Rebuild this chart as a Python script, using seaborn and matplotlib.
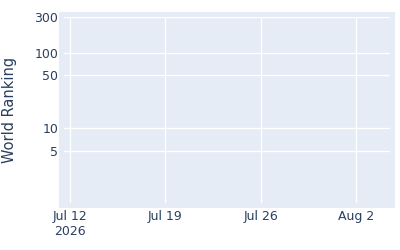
import matplotlib
matplotlib.use("Agg")
import matplotlib.pyplot as plt
import matplotlib.dates as mdates
from matplotlib.patches import Rectangle
import seaborn as sns
import pandas as pd
import numpy as np

# Data (the reference chart has no visible data points)
dates = []
rankings = []
y_ticks = [5, 10, 50, 100, 300]
y_tick_labels = ["5", "10", "50", "100", "300"]
x_tick_dates = ["2026-07-12", "2026-07-19", "2026-07-26", "2026-08-02"]
x_tick_labels = ["Jul 12\n2026", "Jul 19", "Jul 26", "Aug 2"]

sns.set_theme(style="white")
plt.rcParams['font.family'] = ['DejaVu Sans']

W, H = 400, 250
fig = plt.figure(figsize=(W / 100, H / 100), dpi=100)
fig.patch.set_facecolor("white")

bg = "#E5ECF6"
txt = "#2a3f5f"

# outer background slightly larger than the gridline area
fig.patches.append(Rectangle((59 / W, 1 - 208 / H), (395 - 59) / W, (208 - 12) / H,
                             transform=fig.transFigure, facecolor=bg, edgecolor="none", zorder=-5))

ax = fig.add_axes([64 / W, 1 - 203 / H, (390 - 64) / W, (203 - 17) / H])
ax.set_zorder(2)
ax.set_facecolor(bg)

df = pd.DataFrame({"date": pd.to_datetime(pd.Series(dates, dtype="object")),
                   "rank": pd.Series(rankings, dtype=float)})
if len(df):
    sns.lineplot(data=df, x="date", y="rank", ax=ax)

ax.set_yscale("log")
ax.set_ylim(1, 300)
ax.set_yticks(y_ticks)
ax.set_yticklabels(y_tick_labels)
ax.yaxis.set_minor_locator(matplotlib.ticker.NullLocator())

xt = [mdates.date2num(pd.Timestamp(d)) for d in x_tick_dates]
day = 1.0
ax.set_xlim(xt[0] - 0.44 * day, xt[-1] + 2.5 * day)
ax.set_xticks(xt)
ax.set_xticklabels(x_tick_labels)

ax.grid(True, color="white", linewidth=1.0)
ax.set_axisbelow(True)
for s in ax.spines.values():
    s.set_visible(False)

ax.tick_params(axis="both", length=0, labelsize=9, colors=txt)
ax.tick_params(axis="y", pad=4)
ax.tick_params(axis="x", pad=5)
ax.set_xlabel("")
ax.set_ylabel("World Ranking", fontsize=10.5, color=txt)
ax.yaxis.set_label_coords(-(64 - 17) / (390 - 64), 0.5)

fig.savefig("out.png", dpi=100)
